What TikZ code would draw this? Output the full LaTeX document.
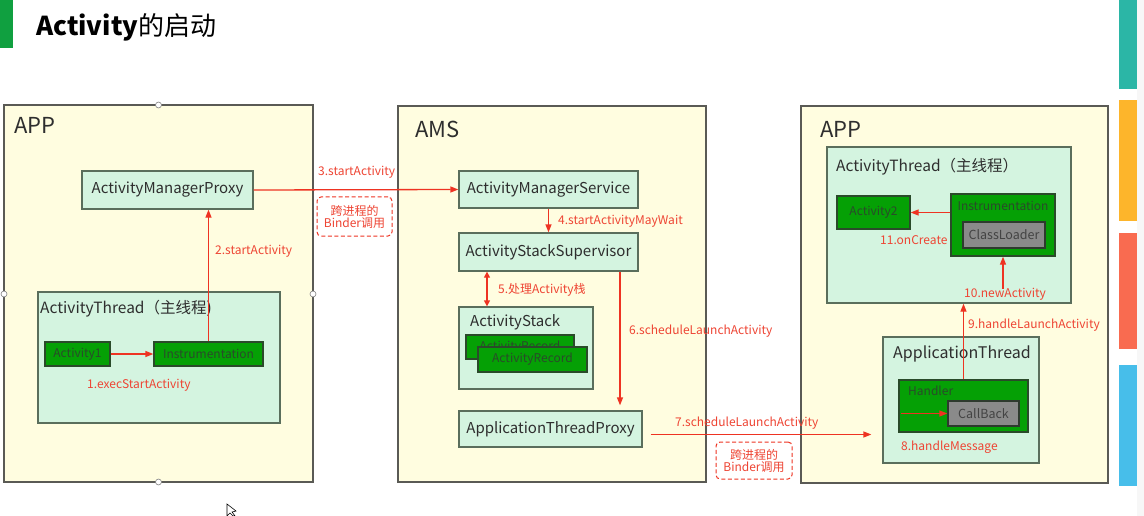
\documentclass[tikz,border=0pt]{standalone}
\usepackage{fontspec}
\setmainfont{Noto Sans CJK SC}
\usetikzlibrary{arrows.meta,calc}
\definecolor{panelfill}{HTML}{FFFDE0}
\definecolor{panelborder}{HTML}{5A5A55}
\definecolor{mintfill}{HTML}{D4F4E0}
\definecolor{mintborder}{HTML}{5A6E5C}
\definecolor{gfill}{HTML}{05A005}
\definecolor{gborder}{HTML}{2A4A2A}
\definecolor{grayfill}{HTML}{8A8A8A}
\definecolor{grayborder}{HTML}{2E3A2E}
\definecolor{ared}{HTML}{EE3322}
\definecolor{lred}{HTML}{EE4433}
\definecolor{titlegreen}{HTML}{10A040}
\definecolor{bteal}{HTML}{2BB6A6}
\definecolor{borange}{HTML}{FDB52B}
\definecolor{bred}{HTML}{F96B50}
\definecolor{bblue}{HTML}{47BEEA}
\definecolor{txt}{HTML}{2E2E2E}
\tikzset{
  panel/.style={draw=panelborder, fill=panelfill, line width=1.3pt, inner sep=0pt},
  mint/.style={draw=mintborder, fill=mintfill, line width=1.3pt, inner sep=0pt, text=txt},
  gbox/.style={draw=gborder, fill=gfill, line width=1.3pt, inner sep=0pt, text=gborder, font=\fontsize{12}{14}\selectfont},
  graybox/.style={draw=grayborder, fill=grayfill, line width=1.3pt, inner sep=0pt, text=txt!90, font=\fontsize{12.5}{14}\selectfont},
  rarrow/.style={draw=ared, line width=1.3pt, -{Triangle[length=8pt,width=6pt]}},
  rdarrow/.style={draw=ared, line width=1.3pt, {Triangle[length=6pt,width=6pt]}-{Triangle[length=6pt,width=6pt]}},
  rlabel/.style={text=lred, font=\fontsize{12}{14}\selectfont, inner sep=0pt, anchor=west},
  dbox/.style={draw=ared, dashed, dash pattern=on 4pt off 2.5pt, rounded corners=4pt, line width=1pt, align=center, text=lred, font=\fontsize{12}{14}\selectfont, inner sep=0pt},
  ptitle/.style={text=txt, font=\fontsize{22}{24}\selectfont, inner sep=0pt, anchor=west},
  btitle/.style={text=txt, font=\fontsize{15.5}{18}\selectfont, inner sep=0pt, anchor=west},
  handle/.style={draw=gray, fill=white, line width=0.6pt},
}
\begin{document}
\begin{tikzpicture}[x=1pt,y=-1pt]
\useasboundingbox (0,0) rectangle (1144,516);
\fill[white] (0,0) rectangle (1144,516);
% title
\fill[titlegreen] (0,0) rectangle (13,48);
\node[anchor=west, inner sep=0pt, font=\fontsize{26}{30}\selectfont, text=black] (title) at (36,27) {\textbf{Activity}的启动};
% right bars
\fill[black!3] (1137,0) rectangle (1144,516);
\fill[bteal] (1119,0) rectangle (1137,89);
\fill[borange] (1119,100) rectangle (1137,221);
\fill[bred] (1119,233) rectangle (1137,349);
\fill[bblue] (1119,365) rectangle (1137,486);

% ===== left APP panel
\node[panel, minimum width=309, minimum height=377] (app1) at (158.5,293.5) {};
\node[ptitle] (app1t) at (14,125) {APP};
\node[mint, minimum width=171, minimum height=38, font=\fontsize{15}{18}\selectfont] (amp) at (167.5,190) {ActivityManagerProxy};
\node[mint, minimum width=242, minimum height=131] (at1) at (159,357.5) {};
\node[btitle] (at1t) at (40,309) {ActivityThread（主线程)};
\node[gbox, minimum width=65, minimum height=24] (act1) at (77.5,354) {Activity1};
\node[gbox, minimum width=109, minimum height=24] (ins1) at (208.5,354) {Instrumentation};
\draw[rarrow] (act1.east) -- (ins1.west);
\node[rlabel] (l1) at (87,385) {1.execStartActivity};
\draw[rarrow] (ins1.north) -- (ins1.north |- amp.south);
\node[rlabel] (l2) at (215,251) {2.startActivity};
% handles
\draw[handle] (158.5,105) circle (3);
\draw[handle] (158.5,482) circle (3);
\draw[handle] (4,294) circle (3);
\draw[handle] (313,294) circle (3);

% ===== AMS panel
\node[panel, minimum width=308, minimum height=376] (ams) at (552,294) {};
\node[ptitle] (amst) at (415,129) {AMS};
\node[mint, minimum width=179, minimum height=37, font=\fontsize{15}{18}\selectfont] (amsvc) at (548.5,189.5) {ActivityManagerService};
\node[mint, minimum width=179, minimum height=38, font=\fontsize{15}{18}\selectfont] (ass) at (548.5,252) {ActivityStackSupervisor};
\node[mint, minimum width=134, minimum height=82] (astack) at (526,348) {};
\node[btitle, font=\fontsize{15}{18}\selectfont] (astackt) at (470,322) {ActivityStack};
\node[gbox, minimum width=108, minimum height=24] (ar1) at (520,347) {ActivityRecord};
\node[gbox, minimum width=109, minimum height=25] (ar2) at (532.5,359.5) {ActivityRecord};
\node[mint, minimum width=183, minimum height=36, font=\fontsize{15}{18}\selectfont] (atp) at (550.5,429) {ApplicationThreadProxy};

\draw[rarrow] (amp.east) -- (amsvc.west);
\node[rlabel] (l3) at (318,172) {3.startActivity};
\node[dbox, minimum width=75, minimum height=39] (d1) at (354.5,216.5) {跨进程的\\[-2pt]Binder调用};

\draw[rarrow] (amsvc.south) -- (ass.north);
\node[rlabel] (l4) at (558,221) {4.startActivityMayWait};
\draw[rdarrow] ([xshift=-61.5pt]ass.south) -- ([xshift=-39pt]astack.north);
\node[rlabel] (l5) at (498,290) {5.处理Activity栈};
\draw[rarrow, shorten >=5pt] ([xshift=71.5pt]ass.south) -- ([xshift=69.5pt]atp.north);
\node[rlabel] (l6) at (629,331) {6.scheduleLaunchActivity};

% ===== right APP panel
\node[panel, minimum width=307, minimum height=377] (app2) at (954.5,294.5) {};
\node[ptitle] (app2t) at (820,129) {APP};
\node[mint, minimum width=244, minimum height=156] (at2) at (949,225) {};
\node[btitle] (at2t) at (836,167) {ActivityThread（主线程）};
\node[gbox, minimum width=73, minimum height=33] (act2) at (873.5,212.5) {Activity2};
\node[gbox, minimum width=104, minimum height=62] (ins2) at (1003,225) {};
\node[anchor=north, inner sep=0pt, text=gborder, font=\fontsize{12}{14}\selectfont] (ins2t) at (1003,201) {Instrumentation};
\node[graybox, minimum width=82, minimum height=26] (cl) at (1004,235) {ClassLoader};
\node[mint, minimum width=156, minimum height=126] (apt) at (961,400) {};
\node[btitle, font=\fontsize{16}{18}\selectfont] (aptt) at (893,354) {ApplicationThread};
\node[gbox, minimum width=129, minimum height=52] (hdl) at (963.5,406) {};
\node[anchor=west, inner sep=0pt, text=gborder, font=\fontsize{12}{14}\selectfont] (hdlt) at (908,391) {Handler};
\node[graybox, minimum width=71, minimum height=25] (cb) at (983.5,413.5) {CallBack};

\coordinate (s7) at ([xshift=8pt,yshift=-5.5pt]atp.east);
\draw[rarrow, shorten >=11pt] (s7) -- (s7 -| apt.west);
\node[rlabel] (l7) at (675,423) {7.scheduleLaunchActivity};
\node[dbox, minimum width=76, minimum height=37] (d2) at (754,460.5) {跨进程的\\[-2pt]Binder调用};

\draw[rarrow, shorten <=3pt] (hdl.west |- cb.west) -- (cb.west);
\node[rlabel] (l8) at (901,447) {8.handleMessage};
\draw[rarrow] (hdl.north) -- (hdl.north |- at2.south);
\node[rlabel] (l9) at (968,325) {9.handleLaunchActivity};
\coordinate (s10) at ([yshift=-32pt]ins2.south);
\draw[rarrow] (s10) -- (ins2.south);
\node[rlabel] (l10) at (964,294) {10.newActivity};
\draw[rarrow] (ins2.west |- act2.east) -- (act2.east);
\node[rlabel] (l11) at (880,240) {11.onCreate};

% cursor
\draw[black, line width=0.6pt, fill=white] (227,504) -- (227,516) -- (230,513) -- (233,516) -- (235,516) -- (232,512) -- (236,511) -- cycle;
\end{tikzpicture}
\end{document}
